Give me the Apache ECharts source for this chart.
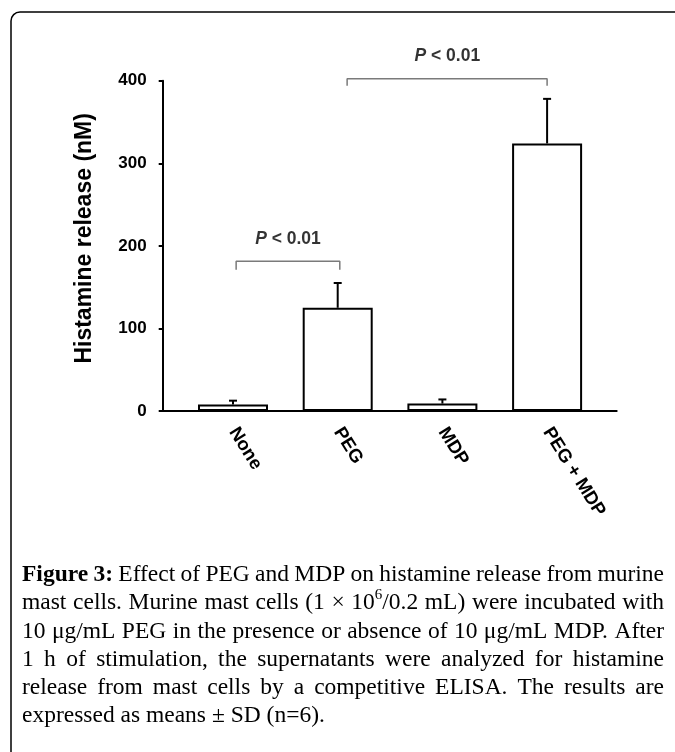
<!DOCTYPE html>
<html><head><meta charset="utf-8">
<script src="https://cdn.jsdelivr.net/npm/echarts@6/dist/echarts.min.js"></script>
<style>html,body{margin:0;padding:0;background:#fff}#c{width:675px;height:752px}</style>
</head><body><div id="c"></div>
<script>
// ---- data ----
const categories = ['None', 'PEG', 'MDP', 'PEG + MDP'];
const means = [8, 125, 9, 324];
const sds = [4.5, 30, 5, 54];
const yTicks = [0, 100, 200, 300, 400];
const yTitle = 'Histamine release (nM)';
// significance brackets (x in category-index units, y in nM)
const bracketX0 = [0.03, 1.09];
const bracketX1 = [1.02, 3.0];
const bracketTop = [181.5, 402.4];
const bracketFoot = [171, 394];
const bracketLabel = ['P < 0.01', 'P < 0.01'];
const bracketLabelX = [0.525, 2.047];
const bracketLabelY = [208, 430];
const captionLines = [
  "[b]Figure [b]3: Effect of PEG and MDP on histamine release from murine",
  "mast cells. Murine mast cells (1 × 10^6/0.2 mL) were incubated with",
  "10 μg/mL PEG in the presence or absence of 10 μg/mL MDP. After",
  "1 h of stimulation, the supernatants were analyzed for histamine",
  "release from mast cells by a competitive ELISA. The results are",
  "expressed as means ± SD (n=6)."
];

// ---- chart ----
const chart = echarts.init(document.getElementById('c'), null, {renderer: 'canvas'});
const SANS = '"Liberation Sans", Arial, sans-serif';
const SERIF = '"Liberation Serif", "Times New Roman", serif';

const series = [
  {
    type: 'bar', xAxisIndex: 0, yAxisIndex: 0, barWidth: 70,
    data: means,
    itemStyle: {color: '#fff', borderColor: '#000', borderWidth: 2},
    silent: true, z: 2
  },
  {
    type: 'custom', xAxisIndex: 0, yAxisIndex: 0, z: 3, silent: true,
    data: categories.map((c, i) => [i, means[i], sds[i]]),
    renderItem: function (params, api) {
      const x = api.value(0), m = api.value(1), sd = api.value(2);
      const b = api.coord([x, m]);
      const t = api.coord([x, m + sd]);
      const hw = 4;
      return {
        type: 'group', children: [
          {type: 'line', shape: {x1: b[0], y1: b[1], x2: t[0], y2: t[1]}, style: {stroke: '#000', lineWidth: 2}},
          {type: 'line', shape: {x1: t[0] - hw, y1: t[1], x2: t[0] + hw, y2: t[1]}, style: {stroke: '#000', lineWidth: 2}}
        ]
      };
    }
  }
];
bracketX0.forEach((x0, i) => {
  series.push({
    type: 'line', xAxisIndex: 1, yAxisIndex: 0, clip: false, silent: true,
    symbol: 'none', lineStyle: {color: '#7a7a7a', width: 1.5},
    data: [[x0, bracketFoot[i]], [x0, bracketTop[i]], [bracketX1[i], bracketTop[i]], [bracketX1[i], bracketFoot[i]]],
    z: 4
  });
  series.push({
    type: 'scatter', xAxisIndex: 1, yAxisIndex: 0, clip: false, silent: true,
    symbolSize: 1, itemStyle: {color: 'rgba(0,0,0,0)'},
    data: [[bracketLabelX[i], bracketLabelY[i]]],
    label: {
      show: true, position: 'inside',
      formatter: () => {
        const s = bracketLabel[i];
        return '{i|' + s.charAt(0) + '}{n|' + s.slice(1) + '}';
      },
      rich: {
        i: {fontFamily: SANS, fontSize: 17.5, fontWeight: 'bold', fontStyle: 'italic', color: '#000'},
        n: {fontFamily: SANS, fontSize: 17.5, fontWeight: 'bold', color: '#000'}
      }
    },
    z: 5
  });
});

// caption layout (justified)
const cctx = document.createElement('canvas').getContext('2d');
const FS = 23.5;
const SUPFS = Math.round(FS * 0.62);
const fontOf = k => (k === 'b' ? 'bold ' : '') + (k === 's' ? SUPFS : FS) + 'px ' + SERIF;
function parseWord(w) {
  let bold = false;
  if (w.startsWith('[b]')) { bold = true; w = w.slice(3); }
  const runs = []; let buf = '';
  for (let i = 0; i < w.length; i++) {
    if (w[i] === '^') {
      if (buf) runs.push({t: buf, k: bold ? 'b' : 'n'});
      buf = '';
      runs.push({t: w[i + 1], k: 's'}); i++;
    } else buf += w[i];
  }
  if (buf) runs.push({t: buf, k: bold ? 'b' : 'n'});
  runs.forEach(r => { cctx.font = fontOf(r.k); r.w = cctx.measureText(r.t).width; });
  return runs;
}
const CAP_L = 22, CAP_R = 664, CAP_Y0 = 575, CAP_LH = 28.2;
const graphics = [
  {type: 'rect', shape: {x: 11, y: 12, width: 720, height: 800, r: 9},
   style: {fill: 'none', stroke: '#000', lineWidth: 1.5}, silent: true}
];
cctx.font = fontOf('n');
const spaceW = cctx.measureText(' ').width;
captionLines.forEach((line, li) => {
  const words = line.split(' ').map(parseWord);
  const ww = words.map(rs => rs.reduce((a, r) => a + r.w, 0));
  const total = ww.reduce((a, b) => a + b, 0);
  const last = li === captionLines.length - 1;
  const gap = last ? spaceW : (CAP_R - CAP_L - total) / (words.length - 1);
  let x = CAP_L;
  const y = CAP_Y0 + li * CAP_LH;
  words.forEach((rs) => {
    rs.forEach(r => {
      graphics.push({
        type: 'text', x: x, y: r.k === 's' ? y - FS * 0.34 : y, silent: true,
        style: {text: r.t, fontFamily: SERIF, fontSize: r.k === 's' ? SUPFS : FS,
                fontWeight: r.k === 'b' ? 'bold' : 'normal', fill: '#000', align: 'left', verticalAlign: 'middle'}
      });
      x += r.w;
    });
    x += gap;
  });
});

const option = {
  backgroundColor: '#fff',
  animation: false,
  grid: [
    {left: 180.65, right: 75.55, top: 80.7, bottom: 341, containLabel: false},
    {left: 162.7, right: 58.3, top: 80.7, bottom: 341, containLabel: false}
  ],
  xAxis: [
    {
      type: 'category', gridIndex: 0, data: categories,
      axisLine: {show: false}, axisTick: {show: false},
      axisLabel: {rotate: -58, margin: 18, interval: 0, fontFamily: SANS, fontSize: 18.5, fontWeight: 'bold', color: '#000'}
    },
    {type: 'value', gridIndex: 0, min: -0.5, max: 3.5, show: false},
    {
      type: 'value', gridIndex: 1, min: 0, max: 1,
      axisLine: {show: true, lineStyle: {color: '#000', width: 2}},
      axisTick: {show: false}, axisLabel: {show: false}, splitLine: {show: false}
    }
  ],
  yAxis: [
    {
      type: 'value', gridIndex: 0, min: yTicks[0], max: yTicks[yTicks.length - 1], interval: yTicks[1] - yTicks[0],
      offset: 17.95,
      axisLine: {show: true, onZero: false, lineStyle: {color: '#000', width: 2}},
      axisTick: {show: true, length: 4, lineStyle: {color: '#000', width: 2}},
      axisLabel: {margin: 16, fontFamily: SANS, fontSize: 17, fontWeight: 'bold', color: '#000'},
      splitLine: {show: false},
      name: yTitle, nameLocation: 'middle', nameGap: 67,
      nameTextStyle: {fontFamily: SANS, fontSize: 23, fontWeight: 'bold', color: '#000', padding: [0, 0, 0, 15]}
    },
    {type: 'value', gridIndex: 1, min: 0, max: 1, show: false}
  ],
  series: series,
  graphic: graphics
};
chart.setOption(option);
</script>
</body></html>
